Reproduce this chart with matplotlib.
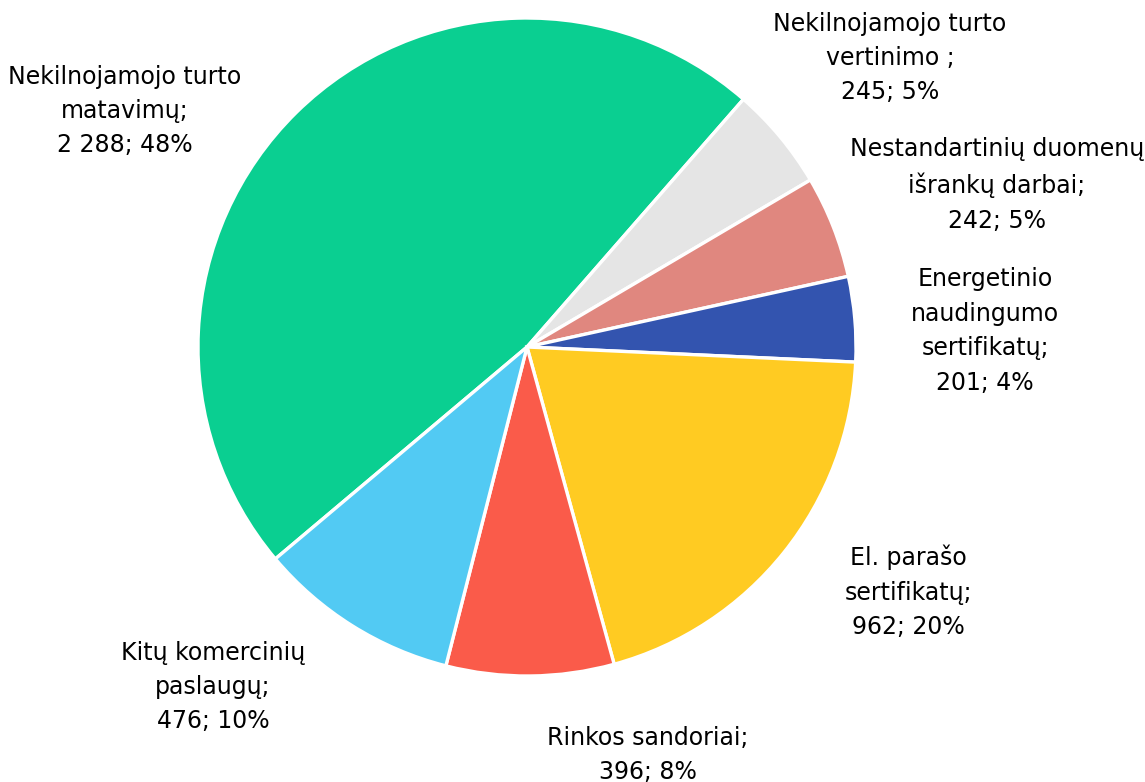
import matplotlib.pyplot as plt

# duomenys
labels = ['Nekilnojamojo turto\nmatavimų;', 'Nekilnojamojo turto\nvertinimo ;',
          'Nestandartinių duomenų\nišrankų darbai;', 'Energetinio\nnaudingumo\nsertifikatų;',
          'El. parašo\nsertifikatų;', 'Rinkos sandoriai;', 'Kitų komercinių\npaslaugų;']
values = [2288, 245, 242, 201, 962, 396, 476]
colors = ['#0ACF91', '#E5E5E5', '#E0877F', '#3354AF', '#FFCB22', '#FA5B4A', '#52CAF3']

# etikečių vietos (pikseliais, nuo viršaus)
label_pos = [(125, 111), (890, 58), (997, 185), (985, 331), (908, 592), (648, 755), (213, 687)]

W, H = 1145, 782
fig = plt.figure(figsize=(W / 100, H / 100), dpi=100)
ax = fig.add_axes([0, 0, 1, 1])

total = sum(values)
ax.pie(values, colors=colors, startangle=220.1, counterclock=False,
       center=(527, H - 347), radius=329,
       wedgeprops=dict(edgecolor='white', linewidth=2.4))

for lab, v, (x, y) in zip(labels, values, label_pos):
    num = f'{v:,}'.replace(',', ' ')
    pct = round(v / total * 100)
    ax.text(x, H - y, f'{lab}\n{num}; {pct}%', ha='center', va='center',
            fontsize=17, family='DejaVu Sans', linespacing=1.55, color='black')

ax.set_xlim(0, W)
ax.set_ylim(0, H)
ax.set_aspect('equal')
ax.axis('off')

plt.savefig('out.png', dpi=100)
plt.close()
